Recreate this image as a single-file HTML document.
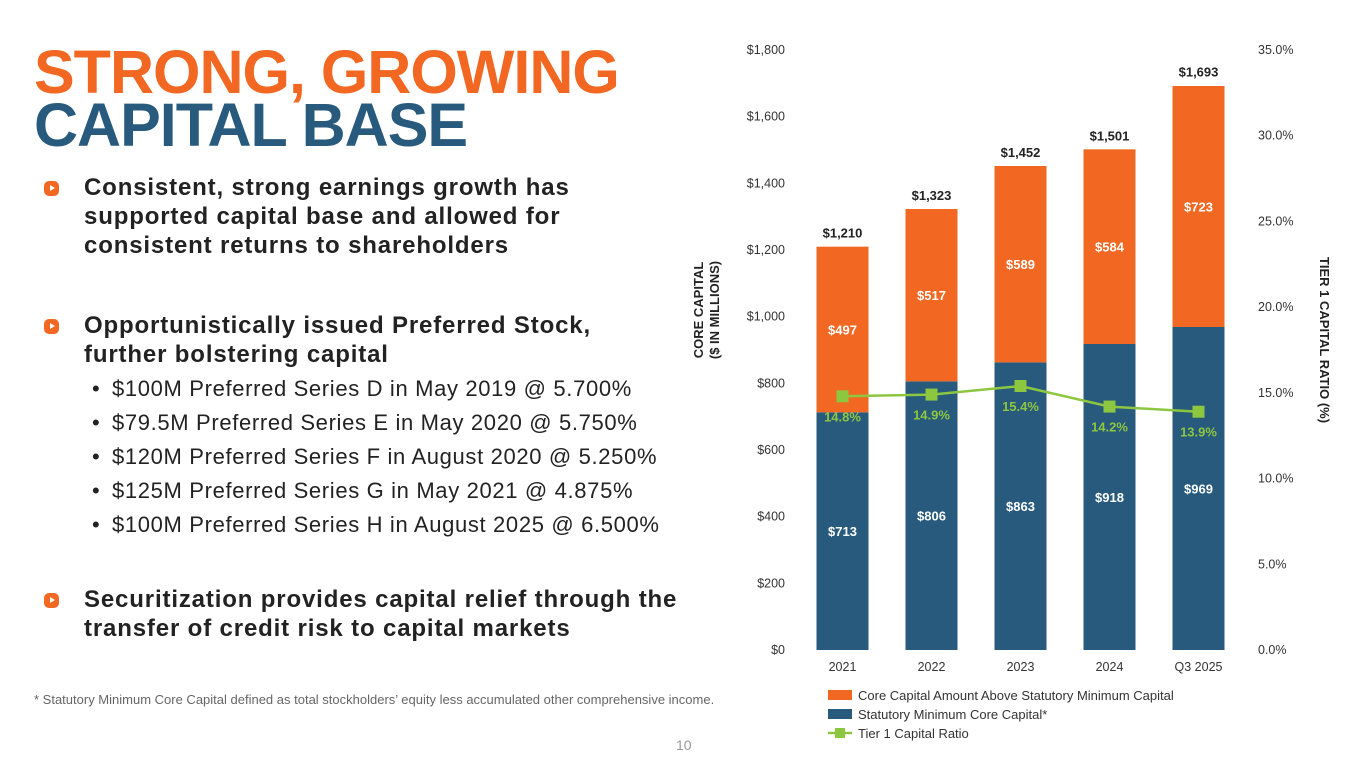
<!DOCTYPE html>
<html><head><meta charset="utf-8"><style>
body{margin:0;width:1365px;height:768px;background:#fff;position:relative;overflow:hidden;font-family:"Liberation Sans",Arial,sans-serif}
.t{position:absolute;left:34px;font-weight:bold;font-size:61px;letter-spacing:-1px;line-height:1}
.b{position:absolute;left:84px;font-weight:bold;font-size:24px;letter-spacing:0.85px;color:#222;line-height:29px;white-space:nowrap}
.s{position:absolute;left:112px;font-size:22px;letter-spacing:0.65px;color:#222;white-space:nowrap}
.s:before{content:"•";position:absolute;left:-20px}
.ic{position:absolute;left:44px;width:15px;height:15px;border-radius:5px;background:#f26722}
.ic:after{content:"";position:absolute;left:6px;top:4px;border-left:5px solid #fff;border-top:3.5px solid transparent;border-bottom:3.5px solid transparent}
</style></head><body>
<div class="t" style="top:42px;color:#f26722">STRONG, GROWING</div>
<div class="t" style="top:95px;color:#285a7d">CAPITAL BASE</div>
<div class="ic" style="top:181px"></div>
<div class="b" style="top:173px">Consistent, strong earnings growth has<br>supported capital base and allowed for<br>consistent returns to shareholders</div>
<div class="ic" style="top:319px"></div>
<div class="b" style="top:311px">Opportunistically issued Preferred Stock,<br>further bolstering capital</div>
<div class="s" style="top:376px">$100M Preferred Series D in May 2019 @ 5.700%</div>
<div class="s" style="top:410px">$79.5M Preferred Series E in May 2020 @ 5.750%</div>
<div class="s" style="top:444px">$120M Preferred Series F in August 2020 @ 5.250%</div>
<div class="s" style="top:478px">$125M Preferred Series G in May 2021 @ 4.875%</div>
<div class="s" style="top:512px">$100M Preferred Series H in August 2025 @ 6.500%</div>
<div class="ic" style="top:593px"></div>
<div class="b" style="top:585px">Securitization provides capital relief through the<br>transfer of credit risk to capital markets</div>
<div style="position:absolute;left:34px;top:692px;font-size:13px;color:#666;white-space:nowrap">* Statutory Minimum Core Capital defined as total stockholders’ equity less accumulated other comprehensive income.</div>
<div style="position:absolute;left:676px;top:737px;font-size:14px;color:#999">10</div>
<svg id="c" width="1365" height="768" style="position:absolute;left:0;top:0"></svg>
<script>
const categories=["2021","2022","2023","2024","Q3 2025"];
const statMin=[713,806,863,918,969];
const above=[497,517,589,584,723];
const totals=[1210,1323,1452,1501,1693];
const ratio=[14.8,14.9,15.4,14.2,13.9];
const leftTicks=[0,200,400,600,800,1000,1200,1400,1600,1800];
const rightTicks=[0,5,10,15,20,25,30,35];
const svg=document.getElementById('c');const NS="http://www.w3.org/2000/svg";
const X0=798,X1=1243,Y0=650,Y1=50;
const y=v=>Y0-(v/1800)*(Y0-Y1);
const yr=v=>Y0-(v/35)*(Y0-Y1);
const bw=(X1-X0)/categories.length;
const xc=i=>X0+bw*(i+0.5);
function el(t,a,txt){const e=document.createElementNS(NS,t);for(const k in a)e.setAttribute(k,a[k]);if(txt!=null)e.textContent=txt;svg.appendChild(e);return e;}
const F='"Liberation Sans",Arial,sans-serif';
leftTicks.forEach(v=>{const e=el('text',{x:785,y:y(v)+4,'text-anchor':'end','font-size':12.5,fill:'#333','font-family':F},'$'+v.toLocaleString('en-US'));

});
rightTicks.forEach(v=>{const e=el('text',{x:1258,y:yr(v)+4,'font-size':12.5,fill:'#333','font-family':F},v.toFixed(1)+'%');

});
categories.forEach((c,i)=>{
const x=xc(i),w=52;
const b1=el('rect',{x:x-w/2,y:y(statMin[i]),width:w,height:Y0-y(statMin[i]),fill:'#285a7d'});


const b2=el('rect',{x:x-w/2,y:y(statMin[i]+above[i]),width:w,height:y(statMin[i])-y(statMin[i]+above[i]),fill:'#f26722'});


const l1=el('text',{x:x,y:y(statMin[i]/2)+5,'text-anchor':'middle','font-size':13,'font-weight':'bold',fill:'#fff','font-family':F},'$'+statMin[i]);


const l2=el('text',{x:x,y:y(statMin[i]+above[i]/2)+5,'text-anchor':'middle','font-size':13,'font-weight':'bold',fill:'#fff','font-family':F},'$'+above[i]);


const l3=el('text',{x:x,y:y(totals[i])-9,'text-anchor':'middle','font-size':13,'font-weight':'bold',fill:'#222','font-family':F},'$'+totals[i].toLocaleString('en-US'));


const cl=el('text',{x:x,y:671,'text-anchor':'middle','font-size':12.5,fill:'#333','font-family':F},c);


});
const ln=el('polyline',{points:ratio.map((v,i)=>xc(i)+','+yr(v)).join(' '),fill:'none',stroke:'#8dc63f','stroke-width':2.5});


ratio.forEach((v,i)=>{
const m=el('rect',{x:xc(i)-6,y:yr(v)-6,width:12,height:12,fill:'#8dc63f'});


const t=el('text',{x:xc(i),y:yr(v)+25,'text-anchor':'middle','font-size':13,'font-weight':'bold',fill:'#8dc63f','font-family':F},v.toFixed(1)+'%');


});
const yt=el('text',{transform:'translate(703,310) rotate(-90)','text-anchor':'middle','font-size':13,'font-weight':'bold',fill:'#222','font-family':F},'CORE CAPITAL');


const yt2=el('text',{transform:'translate(719,310) rotate(-90)','text-anchor':'middle','font-size':13,'font-weight':'bold',fill:'#222','font-family':F},'($ IN MILLIONS)');


const rt=el('text',{transform:'translate(1320,340) rotate(90)','text-anchor':'middle','font-size':13,'font-weight':'bold',fill:'#222','font-family':F},'TIER 1 CAPITAL RATIO (%)');


const lg=[['#f26722','Core Capital Amount Above Statutory Minimum Capital',0],['#285a7d','Statutory Minimum Core Capital*',0],['#8dc63f','Tier 1 Capital Ratio',1]];
lg.forEach((d,i)=>{const yy=695+i*19;
if(d[2]){const a=el('line',{x1:828,x2:852,y1:yy,y2:yy,stroke:d[0],'stroke-width':2.5});
const b=el('rect',{x:835,y:yy-5,width:10,height:10,fill:d[0]});}
else{const a=el('rect',{x:828,y:yy-5,width:24,height:10,fill:d[0]});}
const t=el('text',{x:858,y:yy+5,'font-size':13,fill:'#333','font-family':F},d[1]);

});
</script>
</body></html>
